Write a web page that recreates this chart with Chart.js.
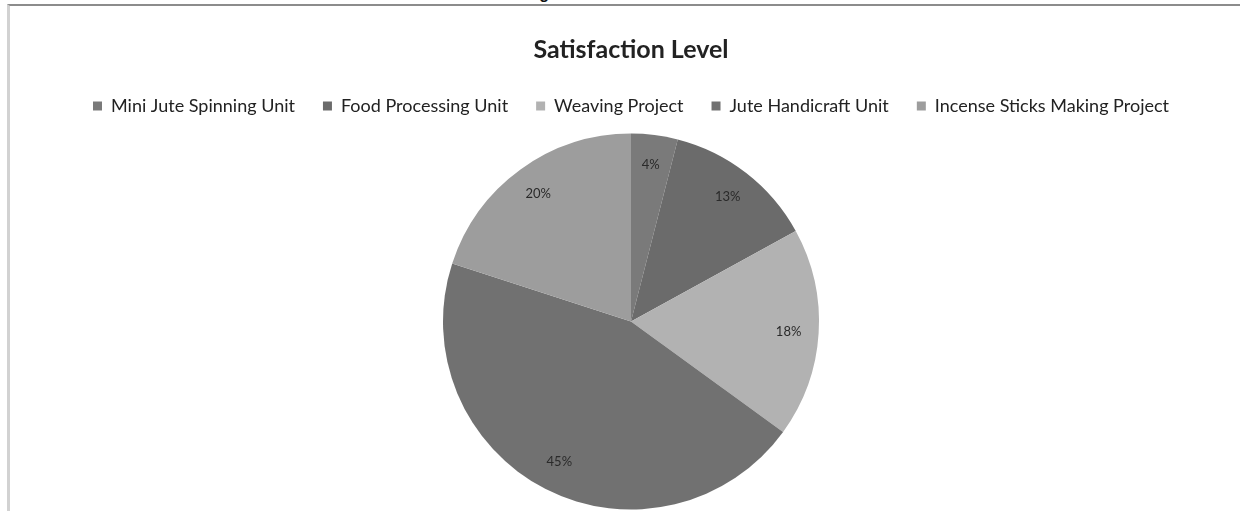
<!DOCTYPE html>
<html>
<head>
<meta charset="utf-8">
<script src="https://cdn.jsdelivr.net/npm/chart.js@4.4.1/dist/chart.umd.min.js"></script>
<style>
  html, body { margin: 0; padding: 0; background: #fff; }
  body { width: 1240px; height: 511px; position: relative; overflow: hidden; }
  .caption {
    position: absolute; left: 525px; top: -15px; white-space: nowrap;
    font: bold 16px "Liberation Sans", Arial, sans-serif; color: #111;
  }
  .frame {
    position: absolute; left: 7px; top: 4px; width: 1240px; height: 520px;
    border-top: 2px solid #8c8c8c; border-left: 3px solid #d2d2d2; background: #fff;
  }
  #chart { position: absolute; left: 0; top: 0; }
</style>
</head>
<body>
<div class="caption">Fig 6: Satisfaction Level</div>
<div class="frame"></div>
<!-- canvas runs past the window bottom: the pie is cut off there, as in the source -->
<canvas id="chart" width="1240" height="530"></canvas>
<script>
const categories = [
  "Mini Jute Spinning Unit",
  "Food Processing Unit",
  "Weaving Project",
  "Jute Handicraft Unit",
  "Incense Sticks Making Project",
];
const shares = [4, 13, 18, 45, 20];
const sliceColors = ["#7a7a7a", "#6b6b6b", "#b2b2b2", "#717171", "#9d9d9d"];

// percent labels placed inside each slice, near the rim
const sliceLabels = {
  id: "sliceLabels",
  afterDatasetsDraw(chart) {
    const ctx = chart.ctx;
    const meta = chart.getDatasetMeta(0);
    ctx.save();
    ctx.font = "13px Lato, sans-serif";
    ctx.fillStyle = "#2a2a2a";
    ctx.textAlign = "center";
    ctx.textBaseline = "middle";
    meta.data.forEach((arc, i) => {
      const p = arc.getProps(["x", "y", "startAngle", "endAngle", "outerRadius"], true);
      const mid = (p.startAngle + p.endAngle) / 2;
      const r = p.outerRadius * 0.84;
      ctx.fillText(`${shares[i]}%`, p.x + Math.cos(mid) * r, p.y + Math.sin(mid) * r);
    });
    ctx.restore();
  },
};

new Chart(document.getElementById("chart"), {
  type: "pie",
  data: {
    labels: categories,
    datasets: [
      {
        data: shares,
        backgroundColor: sliceColors,
        borderWidth: 0,
        radius: 188,
      },
    ],
  },
  options: {
    responsive: false,
    animation: false,
    layout: { padding: { left: 22, right: 0, top: 35, bottom: 12 } },
    plugins: {
      title: {
        display: true,
        text: "Satisfaction Level",
        color: "#222",
        font: { family: "Lato", size: 25, weight: "bold" },
        padding: { top: 0, bottom: 4 },
      },
      legend: {
        position: "top",
        labels: {
          color: "#222",
          font: { family: "Lato", size: 18 },
          boxWidth: 9,
          boxHeight: 9,
          padding: 28,
        },
      },
      tooltip: { enabled: false },
    },
  },
  plugins: [sliceLabels],
});
</script>
</body>
</html>
